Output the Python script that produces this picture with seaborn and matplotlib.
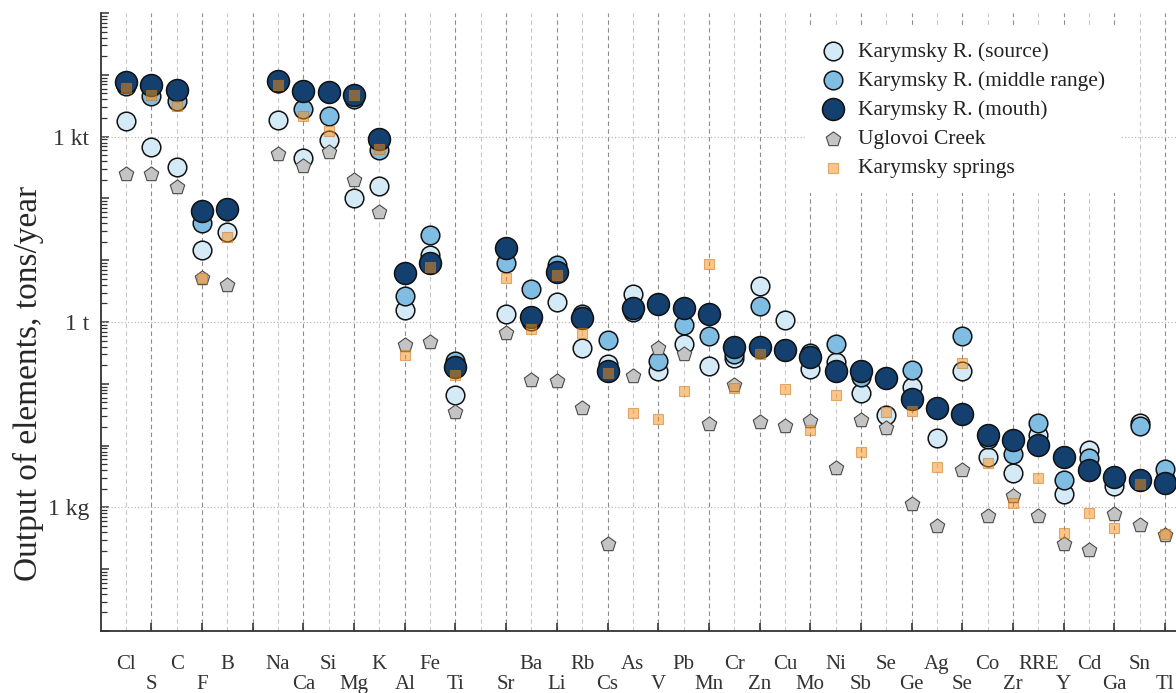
import matplotlib
matplotlib.use("Agg")
import matplotlib.pyplot as plt
import matplotlib.ticker as mticker
import seaborn as sns
import numpy as np

# element order along the x axis (two gaps: after B and after Ti)
elements = ["Cl", "S", "C", "F", "B",
            "Na", "Ca", "Si", "Mg", "K", "Al", "Fe", "Ti",
            "Sr", "Ba", "Li", "Rb", "Cs", "As", "V", "Pb", "Mn", "Cr", "Zn",
            "Cu", "Mo", "Ni", "Sb", "Se", "Ge", "Ag", "Se", "Co", "Zr", "RRE",
            "Y", "Cd", "Ga", "Sn", "Tl"]
positions = [1, 2, 3, 4, 5,
             7, 8, 9, 10, 11, 12, 13, 14,
             16, 17, 18, 19, 20, 21, 22, 23, 24, 25, 26,
             27, 28, 29, 30, 31, 32, 33, 34, 35, 36, 37,
             38, 39, 40, 41, 42]

# output of elements, tons/year
source = [1790, 683, 325, 14.4, 28.1,
          1860, 454, 885, 103, 161, 1.56, 12.0, 0.0668,
          1.35, 1.04, 2.10, 0.381, 0.21, 2.82, 0.163, 0.442, 0.196, 0.263, 3.8,
          1.08, 0.175, 0.227, 0.0719, 0.0318, 0.0898, 0.0135, 0.163, 0.00645, 0.00357, 0.0151,
          0.00164, 0.00837, 0.0022, 0.0236, 0.0029]
middle = [6600, 4520, 3760, 39.3, 62,
          7300, 2790, 2150, 4000, 611, 2.62, 25.2, 0.236,
          8.91, 3.40, 8.28, 1.35, 0.513, 1.45, 0.236, 0.895, 0.595, 0.305, 1.81,
          0.37, 0.317, 0.442, 0.130, 0.12, 0.169, 0.04, 0.595, 0.0126, 0.00722, 0.0228,
          0.00275, 0.00622, 0.0031, 0.0204, 0.00414]
mouth = [7600, 6800, 5650, 63.6, 68.5,
         7890, 5440, 5250, 4700, 918, 6.15, 8.91, 0.188,
         15.5, 1.20, 6.38, 1.16, 0.163, 1.68, 1.95, 1.68, 1.35, 0.396, 0.396,
         0.354, 0.273, 0.163, 0.163, 0.125, 0.0576, 0.0412, 0.033, 0.0151, 0.0121, 0.0101,
         0.00645, 0.00399, 0.00308, 0.00275, 0.00246]
uglovoi = [251, 251, 155, 5.1, 3.94,
           526, 337, 567, 201, 61.3, 0.426, 0.476, 0.0356,
           0.665, 0.116, 0.112, 0.0412, 0.000256, 0.135, 0.381, 0.305, 0.022, 0.0968, 0.0245,
           0.0204, 0.0254, 0.00429, 0.0264, 0.0196, 0.00113, 0.0005, 0.00399, 0.000724, 0.00152, 0.000724,
           0.000256, 0.000205, 0.00078, 0.000519, 0.00036]
springs = [6080, 4700, 3120, 5.1, 23.4,
           6800, 2150, 1240, 4700, 634, 0.294, 7.69, 0.140,
           5.11, 0.771, 5.71, 0.665, 0.151, 0.0343, 0.0274, 0.0774, 8.59, 0.087, 0.305,
           0.0834, 0.0182, 0.0668, 0.00777, 0.0356, 0.0369, 0.00445, 0.219, 0.00517, 0.00117, 0.00297,
           0.000385, 0.000809, 0.000465, 0.00237, 0.000372]

y_labels = {1e-3: "1 kg", 1.0: "1 t", 1e3: "1 kt"}

sns.set_style("white")
plt.rcParams["font.family"] = ["Liberation Serif", "DejaVu Serif"]
plt.rcParams["text.color"] = "#222222"
plt.rcParams["xtick.color"] = "#333333"
plt.rcParams["ytick.color"] = "#333333"

fig = plt.figure(figsize=(11.76, 6.93), dpi=100)
ax = fig.add_axes([100.6 / 1176, 1 - 631 / 693, 1 - 100.6 / 1176, (631 - 13) / 693])

circle_kw = dict(marker="o", edgecolor="#111111", linewidth=1.1)
sns.scatterplot(x=positions, y=source, ax=ax, s=180, color="#d4eaf7",
                label="Karymsky R. (source)", zorder=3, **circle_kw)
sns.scatterplot(x=positions, y=middle, ax=ax, s=180, color="#7fbde3",
                label="Karymsky R. (middle range)", zorder=4, **circle_kw)
sns.scatterplot(x=positions, y=mouth, ax=ax, s=250, color="#14406f",
                label="Karymsky R. (mouth)", zorder=5, **circle_kw)
sns.scatterplot(x=positions, y=uglovoi, ax=ax, s=120, marker="p", color="#c4c4c4",
                edgecolor="#4a4a4a", linewidth=0.8, label="Uglovoi Creek", zorder=6)
sns.scatterplot(x=positions, y=springs, ax=ax, s=60, marker="s", color=(0.97, 0.56, 0.08, 0.5),
                edgecolor=(0.8, 0.45, 0.1, 0.55), linewidth=0.8, label="Karymsky springs", zorder=7)

ax.set_yscale("log")
ax.set_ylim(1e-5, 1e5)
ax.set_xlim(0, 42.43)

# x ticks: even slots on the lower row, odd slots on the upper row
name_at = dict(zip(positions, elements))
major_x = list(range(2, 43, 2))
minor_x = list(range(1, 42, 2))
ax.set_xticks(major_x)
ax.set_xticklabels([name_at.get(p, "") for p in major_x])
ax.set_xticks(minor_x, minor=True)
ax.set_xticklabels([name_at.get(p, "") for p in minor_x], minor=True)
ax.tick_params(left=True, bottom=True, which="both")
ax.tick_params(axis="x", which="major", direction="in", length=6, width=1.2, pad=31.5, labelsize=15)
ax.tick_params(axis="x", which="minor", direction="in", length=0, pad=17, labelsize=15)

ax.yaxis.set_major_locator(mticker.LogLocator(base=10, numticks=20))
ax.yaxis.set_minor_locator(mticker.LogLocator(base=10, subs=np.arange(2, 10), numticks=20))
ax.yaxis.set_major_formatter(mticker.FuncFormatter(
    lambda v, _: next((t for k, t in y_labels.items() if np.isclose(v, k)), "")))
ax.yaxis.set_minor_formatter(mticker.NullFormatter())
ax.tick_params(axis="y", which="major", direction="in", length=6, width=1.1, labelsize=17, pad=8)
ax.tick_params(axis="y", which="minor", direction="in", length=4, width=0.9)

# grid: dashed verticals, dotted horizontals at labelled levels
ax.grid(False)
ax.xaxis.grid(True, which="major", linestyle=(0, (4, 3)), color="#8c8c8c", linewidth=0.8)
ax.xaxis.grid(True, which="minor", linestyle=(0, (4, 3)), color="#c8c8c8", linewidth=0.8)
for v in y_labels:
    ax.axhline(v, color="#bbbbbb", linestyle=":", linewidth=0.9, zorder=1)
ax.set_axisbelow(True)

for side in ["top", "right"]:
    ax.spines[side].set_visible(False)
for side in ["left", "bottom"]:
    ax.spines[side].set_color("#333333")
    ax.spines[side].set_linewidth(1.3)

ax.set_xlabel("")
ax.set_ylabel("Output of elements, tons/year", fontsize=24)
ax.yaxis.set_label_coords(-0.053, 0.40)

leg = ax.legend(loc="upper left", bbox_to_anchor=(796 / 1176, 1 - 16 / 693),
                bbox_transform=fig.transFigure, fontsize=15.5, frameon=True,
                facecolor="white", edgecolor="none", framealpha=1,
                labelspacing=0.42, handletextpad=0.7, borderpad=0.7, handlelength=1.0)
leg.set_zorder(10)

fig.savefig("out.png", dpi=100)
